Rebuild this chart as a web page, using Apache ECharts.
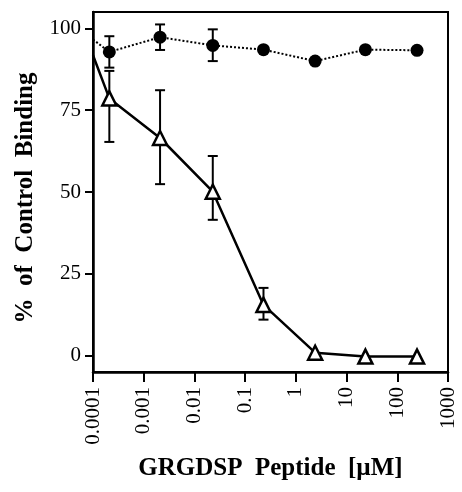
<!DOCTYPE html>
<html>
<head>
<meta charset="utf-8">
<script src="https://cdn.jsdelivr.net/npm/echarts@6/dist/echarts.min.js"></script>
<style>
html, body { margin: 0; padding: 0; background: #fff; }
#chart { width: 462px; height: 492px; }
</style>
</head>
<body>
<div id="chart"></div>
<script>
// concentrations in µM (first entry is the line start at the axis, no marker)
const concentrations = [0.0001, 0.00021, 0.0021, 0.023, 0.23, 2.4, 23.5, 245];
const controlValues = [96.6, 92.8, 97.3, 94.8, 93.5, 90.0, 93.5, 93.3];
const grgdspValues = [91.8, 78.6, 66.5, 50.1, 15.5, 0.9, -0.3, -0.3];

// error bars
const controlErrX = [0.00021, 0.0021, 0.023];
const controlErrLow = [88.0, 93.4, 90.0];
const controlErrHigh = [97.6, 101.2, 99.7];
const grgdspErrX = [0.00021, 0.0021, 0.023, 0.23];
const grgdspErrLow = [65.3, 52.4, 41.5, 11.0];
const grgdspErrHigh = [87.0, 81.1, 61.0, 20.7];

const xTicks = [0.0001, 0.001, 0.01, 0.1, 1, 10, 100, 1000];
const xTickLabels = ['0.0001', '0.001', '0.01', '0.1', '1', '10', '100', '1000'];
const yTicks = [0, 25, 50, 75, 100];

const serif = 'Liberation Serif';

function pointData(values) {
  return concentrations.map((c, i) => {
    const item = { value: [c, values[i]] };
    if (i === 0) item.symbol = 'none';
    return item;
  });
}

function errData(xs, lo, hi) {
  return xs.map((x, i) => [x, lo[i], hi[i]]);
}

function renderErr(params, api) {
  const x = api.value(0);
  const pLo = api.coord([x, api.value(1)]);
  const pHi = api.coord([x, api.value(2)]);
  const w = 5;
  const style = { stroke: '#000', lineWidth: 2 };
  return {
    type: 'group',
    children: [
      { type: 'line', shape: { x1: pLo[0], y1: pLo[1], x2: pHi[0], y2: pHi[1] }, style: style },
      { type: 'line', shape: { x1: pLo[0] - w, y1: pLo[1], x2: pLo[0] + w, y2: pLo[1] }, style: style },
      { type: 'line', shape: { x1: pHi[0] - w, y1: pHi[1], x2: pHi[0] + w, y2: pHi[1] }, style: style }
    ]
  };
}

const chart = echarts.init(document.getElementById('chart'));

const option = {
  animation: false,
  backgroundColor: '#fff',
  grid: {
    left: 93,
    right: 14,
    top: 12,
    bottom: 120,
    show: true,
    borderColor: '#000',
    borderWidth: 2
  },
  xAxis: {
    type: 'log',
    logBase: 10,
    min: 0.0001,
    max: 1000,
    name: 'GRGDSP  Peptide  [µM]',
    nameLocation: 'middle',
    nameGap: 84,
    nameTextStyle: { fontFamily: serif, fontWeight: 'bold', fontSize: 25, color: '#000' },
    axisLine: { onZero: false, lineStyle: { color: '#000', width: 2.5 } },
    axisTick: { show: true, length: 10, lineStyle: { color: '#000', width: 2 }, customValues: xTicks },
    axisLabel: {
      customValues: xTicks,
      rotate: 90,
      margin: 15,
      fontFamily: serif,
      fontSize: 21,
      color: '#000',
      formatter: function (v) {
        const k = Math.round(Math.log10(v)) + 4;
        return xTickLabels[k];
      }
    },
    splitLine: { show: false }
  },
  yAxis: {
    type: 'value',
    min: -5,
    max: 105,
    name: '%  of  Control  Binding',
    nameLocation: 'middle',
    nameGap: 55,
    nameTextStyle: { fontFamily: serif, fontWeight: 'bold', fontSize: 25, color: '#000', padding: [0, 12, 0, 0] },
    axisLine: { show: true, onZero: false, lineStyle: { color: '#000', width: 2.5 } },
    axisTick: { show: true, length: 8, lineStyle: { color: '#000', width: 2 }, customValues: yTicks },
    axisLabel: {
      customValues: yTicks,
      margin: 12,
      fontFamily: serif,
      fontSize: 21,
      color: '#000'
    },
    splitLine: { show: false }
  },
  series: [
    {
      name: 'control err',
      type: 'custom',
      renderItem: renderErr,
      encode: { x: 0, y: [1, 2] },
      data: errData(controlErrX, controlErrLow, controlErrHigh),
      z: 1
    },
    {
      name: 'GRGDSP err',
      type: 'custom',
      renderItem: renderErr,
      encode: { x: 0, y: [1, 2] },
      data: errData(grgdspErrX, grgdspErrLow, grgdspErrHigh),
      z: 1
    },
    {
      name: 'Control',
      type: 'line',
      data: pointData(controlValues),
      symbol: 'circle',
      symbolSize: 13,
      lineStyle: { color: '#000', width: 2, type: [2, 2] },
      itemStyle: { color: '#000' },
      z: 3
    },
    {
      name: 'GRGDSP',
      type: 'line',
      data: pointData(grgdspValues),
      symbol: 'triangle',
      symbolSize: 14,
      lineStyle: { color: '#000', width: 2.5 },
      itemStyle: { color: '#fff', borderColor: '#000', borderWidth: 2.5 },
      z: 3
    }
  ]
};

chart.setOption(option);
</script>
</body>
</html>
